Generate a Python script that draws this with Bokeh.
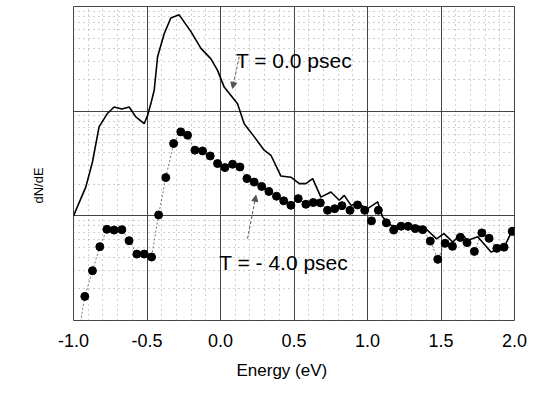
import math
from bokeh.plotting import figure
from bokeh.models import (Range1d, FixedTicker, Label, Arrow, NormalHead,
                          ColumnDataSource, Title)
from bokeh.embed import file_html
from bokeh.resources import INLINE

# ---- data (y on a log scale, arbitrary units) ----
t0_energy = [-1.000, -0.916, -0.871, -0.826, -0.769, -0.724, -0.671, -0.621,
             -0.576, -0.519, -0.496, -0.474, -0.451, -0.428, -0.383, -0.338,
             -0.281, -0.201, -0.133, -0.065, -0.020, 0.025, 0.116, 0.161,
             0.230, 0.297, 0.343, 0.411, 0.479, 0.536, 0.581, 0.627, 0.683,
             0.751, 0.808, 0.842, 0.888, 0.933, 1.001, 1.069, 1.103, 1.160,
             1.230, 1.300, 1.370, 1.410, 1.470, 1.520, 1.580, 1.640, 1.680,
             1.750, 1.840, 1.930, 1.990]
t0_dnde = [10.0, 18.9, 32.7, 70.8, 95.1, 109.6, 104.7, 109.6, 88.1, 75.9,
           91.2, 117.5, 158.5, 331.1, 549.5, 776.2, 831.8, 575.4, 398.1,
           316.2, 245.5, 169.8, 117.5, 75.9, 56.8, 42.4, 37.9, 24.0, 23.4,
           20.3, 20.3, 22.7, 15.1, 16.9, 14.1, 15.7, 12.6, 13.1, 11.7, 13.6,
           9.75, 8.13, 7.85, 8.13, 7.85, 7.24, 6.03, 6.76, 5.62, 6.76, 5.82,
           6.31, 4.52, 5.01, 7.59]

tm4_energy = [-0.970, -0.923, -0.871, -0.821, -0.773, -0.724, -0.671, -0.622,
              -0.569, -0.519, -0.469, -0.421, -0.372, -0.319, -0.270, -0.224,
              -0.174, -0.122, -0.070, -0.020, 0.030, 0.082, 0.132, 0.180,
              0.229, 0.280, 0.329, 0.381, 0.430, 0.479, 0.529, 0.581, 0.631,
              0.679, 0.728, 0.777, 0.826, 0.881, 0.932, 0.981, 1.027, 1.074,
              1.128, 1.178, 1.228, 1.276, 1.325, 1.376, 1.427, 1.478, 1.528,
              1.578, 1.631, 1.677, 1.727, 1.778, 1.827, 1.880, 1.929, 1.985]
tm4_dnde = [0.69, 1.70, 2.99, 5.07, 7.43, 7.31, 7.38, 5.79, 4.31, 4.31, 4.04,
            10.2, 23.2, 49.1, 63.4, 58.9, 42.4, 41.7, 37.3, 31.6, 28.9, 31.1,
            29.3, 22.7, 21.0, 19.1, 17.1, 15.4, 13.9, 12.6, 14.6, 12.9, 13.4,
            13.3, 11.3, 11.7, 12.5, 11.3, 12.7, 11.3, 8.95, 11.3, 8.57, 7.31,
            7.96, 7.94, 7.55, 7.38, 5.74, 3.84, 5.46, 5.11, 6.22, 5.55, 4.57,
            6.87, 6.10, 4.89, 5.02, 7.11]

x_ticks = [-1.0, -0.5, 0.0, 0.5, 1.0, 1.5, 2.0]
x_tick_labels = ["-1.0", "-0.5", "0.0", "0.5", "1.0", "1.5", "2.0"]
x_minor = [-0.9, -0.8, -0.7, -0.6, -0.4, -0.3, -0.2, -0.1, 0.1, 0.2, 0.3,
           0.4, 0.6, 0.7, 0.8, 0.9, 1.1, 1.2, 1.3, 1.4, 1.6, 1.7, 1.8, 1.9]
y_ticks = [1, 10, 100, 1000]
y_minor = [2, 3, 4, 5, 6, 7, 8, 9, 20, 30, 40, 50, 60, 70, 80, 90,
           200, 300, 400, 500, 600, 700, 800, 900]

x_title = "Energy (eV)"
y_title = "dN/dE"
label_t0 = "T = 0.0 psec"
label_tm4 = "T = - 4.0 psec"
label_t0_pos = (0.105, 307.0)
label_tm4_pos = (-0.009, 3.61)
arrow_t0 = (0.127, 331.0, 0.082, 165.0)
arrow_tm4 = (0.184, 6.05, 0.241, 15.7)

FONT = "Liberation Sans"

p = figure(width=545, height=394, output_backend="svg", toolbar_location=None,
           x_range=Range1d(-1.0, 2.0), y_range=Range1d(1, 1000),
           y_axis_type="log", min_border_left=73, min_border_right=31,
           min_border_top=6, min_border_bottom=74)
p.background_fill_color = "white"
p.border_fill_color = "white"
p.outline_line_color = "#444444"
p.outline_line_width = 1

p.xaxis.ticker = FixedTicker(ticks=x_ticks, minor_ticks=x_minor)
p.xaxis.major_label_overrides = {t: s for t, s in zip(x_ticks, x_tick_labels)}
p.yaxis.ticker = FixedTicker(ticks=y_ticks, minor_ticks=y_minor)
p.yaxis.visible = False

ax = p.xaxis[0]
ax.axis_line_color = None
ax.major_tick_in = 0
ax.major_tick_out = 0
ax.minor_tick_in = 0
ax.minor_tick_out = 0
ax.major_label_text_font = FONT
ax.major_label_text_font_size = "18px"
ax.major_label_text_color = "black"
ax.major_label_standoff = 13

for g in (p.xgrid[0], p.ygrid[0]):
    g.grid_line_color = "#444444"
    g.grid_line_width = 1
    g.minor_grid_line_color = "#a0a0a0"
    g.minor_grid_line_dash = "1 4"
    g.minor_grid_line_width = 1

src_t0 = ColumnDataSource(dict(x=t0_energy, y=t0_dnde))
src_tm4 = ColumnDataSource(dict(x=tm4_energy, y=tm4_dnde))

p.line("x", "y", source=src_tm4, line_color="#555555", line_width=0.8,
       line_dash="2 2")
p.scatter("x", "y", source=src_tm4, size=8, fill_color="black",
          line_color="black")
p.line("x", "y", source=src_t0, line_color="black", line_width=1.6)

for (txt, pos) in ((label_t0, label_t0_pos), (label_tm4, label_tm4_pos)):
    p.add_layout(Label(x=pos[0], y=pos[1], text=txt, text_font=FONT,
                       text_font_size="21px", text_color="black",
                       text_baseline="alphabetic", text_align="left"))

for a in (arrow_t0, arrow_tm4):
    p.add_layout(Arrow(x_start=a[0], y_start=a[1], x_end=a[2], y_end=a[3],
                       line_color="#555555", line_width=1, line_dash="3 2",
                       end=NormalHead(size=6, fill_color="#555555",
                                      line_color="#555555")))

ytitle = Title(text=y_title, align="left", offset=117, standoff=55,
               text_font=FONT, text_font_size="13px",
               text_font_style="normal", text_color="black")
p.add_layout(ytitle, "left")

xtitle = Title(text=x_title, align="left", offset=163, standoff=19,
               text_font=FONT, text_font_size="17px",
               text_font_style="normal", text_color="black")
p.add_layout(xtitle, "below")

open("out.html", "w").write(file_html(p, INLINE))
